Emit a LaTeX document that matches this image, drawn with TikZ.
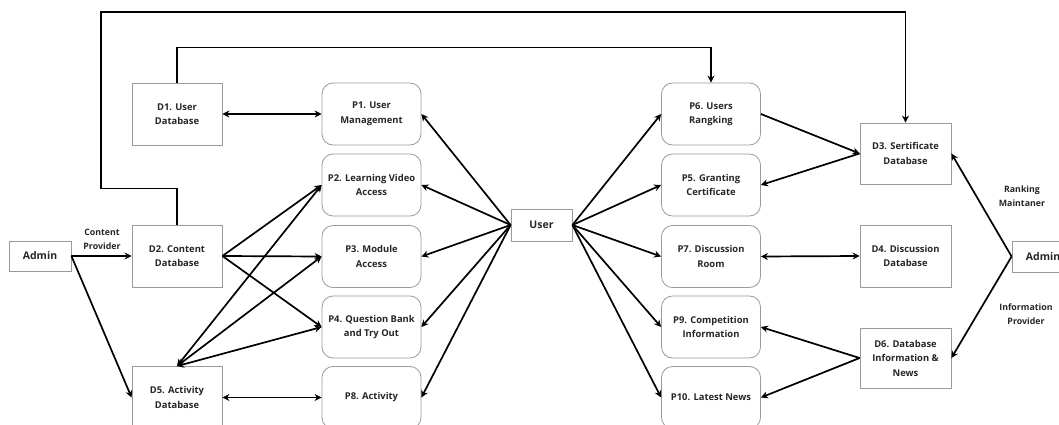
\documentclass[tikz,border=0pt]{standalone}
\usepackage{fontspec}
\setmainfont{Open Sans}
\usetikzlibrary{arrows.meta}
\definecolor{txt}{HTML}{262626}
\definecolor{bord}{HTML}{9A9A9A}
\tikzset{
  base/.style={draw=bord, line width=0.8pt, align=center, text=txt, font=\bfseries\fontsize{9.4}{14.5}\selectfont, inner sep=1pt},
  store/.style={base, rectangle, minimum width=90pt, minimum height=62pt},
  proc/.style={base, rectangle, rounded corners=11pt, minimum width=99pt, minimum height=62pt},
  ext/.style={base, rectangle, minimum width=62pt, minimum height=30pt, font=\bfseries\fontsize{10.5}{12}\selectfont},
  lbl/.style={align=center, text=txt, font=\bfseries\fontsize{8.8}{14}\selectfont, inner sep=0pt},
  arr/.style={line width=1.7pt, -{Stealth[length=7pt,width=7pt]}},
  darr/.style={line width=1.7pt, {Stealth[length=7pt,width=7pt]}-{Stealth[length=7pt,width=7pt]}},
  ln/.style={line width=1.7pt}
}
\begin{document}
\begin{tikzpicture}[x=1pt,y=-1pt]
\useasboundingbox (0,0) rectangle (1059,425);
% stores
\node[store] (D1) at (177,114) {D1. User\\Database};
\node[store] (D2) at (177,256) {D2. Content\\Database};
\node[store] (D5) at (177,397.5) {D5. Activity\\Database};
\node[store, minimum width=91pt, minimum height=61pt] (D3) at (905.5,153.5) {D3. Sertificate\\Database};
\node[store, minimum width=91pt] (D4) at (905.5,256) {D4. Discussion\\Database};
\node[store, minimum width=91pt, minimum height=60pt] (D6) at (905.5,358) {D6. Database\\Information \&\\News};
% processes
\node[proc] (P1) at (371.5,114) {P1. User\\Management};
\node[proc] (P2) at (371.5,185) {P2. Learning Video\\Access};
\node[proc] (P3) at (371.5,256.5) {P3. Module\\Access};
\node[proc] (P4) at (371.5,327) {P4. Question Bank\\and Try Out};
\node[proc] (P8) at (371.5,397.5) {P8. Activity};
\node[proc] (P6) at (711,114) {P6. Users\\Rangking};
\node[proc] (P5) at (711,185) {P5. Granting\\Certificate};
\node[proc] (P7) at (711,256.5) {P7. Discussion\\Room};
\node[proc] (P9) at (711,327) {P9. Competition\\Information};
\node[proc] (P10) at (711,397.5) {P10. Latest News};
% externals
\node[ext] (AL) at (40,256) {Admin};
\node[ext, minimum height=31pt] (AR) at (1043,256.5) {Admin};
\node[ext, minimum width=61pt, minimum height=32pt] (U) at (541.5,225) {User};
% labels
\node[lbl] (l1) at (102,239) {Content\\Provider};
\node[lbl] (l2) at (1022,196) {Ranking\\Maintaner};
\node[lbl] (l3) at (1026,314) {Information\\Provider};
% admin left
\draw[arr] (AL.east) -- (D2.west);
\draw[arr] (AL.east) -- (D5.west);
% feedback lines
\draw[arr] (D2.north) -- ++(0,-36) -| (101,12) -| (D3.north);
\draw[arr] (D1.north) -- ++(0,-35) -| (P6.north);
% stores to processes (left)
\draw[darr] (D1.east) -- (P1.west);
\draw[arr] (D2.east) -- (P2.west);
\draw[arr] (D2.east) -- (P3.west);
\draw[arr] (D2.east) -- (P4.west);
\draw[darr] (D5.north) -- (P2.west);
\draw[darr] (D5.north) -- (P3.west);
\draw[darr] (D5.north) -- (P4.west);
\draw[darr] (D5.east) -- (P8.west);
% user to left processes
\draw[arr] (U.west) -- (P1.east);
\draw[arr] (U.west) -- (P2.east);
\draw[arr] (U.west) -- (P3.east);
\draw[arr] (U.west) -- (P4.east);
\draw[arr] (U.west) -- (P8.east);
% user to right processes
\draw[arr] (U.east) -- (P6.west);
\draw[arr] (U.east) -- (P5.west);
\draw[arr] (U.east) -- (P7.west);
\draw[arr] (U.east) -- (P9.west);
\draw[arr] (U.east) -- (P10.west);
% right stores
\draw[arr] (P6.east) -- (D3.west);
\draw[arr] (D3.west) -- (P5.east);
\draw[darr] (P7.east) -- (D4.west);
\draw[arr] (D6.west) -- (P9.east);
\draw[arr] (D6.west) -- (P10.east);
% admin right
\draw[arr] (AR.west) -- (D3.east);
\draw[arr] (AR.west) -- (D6.east);
\end{tikzpicture}
\end{document}
